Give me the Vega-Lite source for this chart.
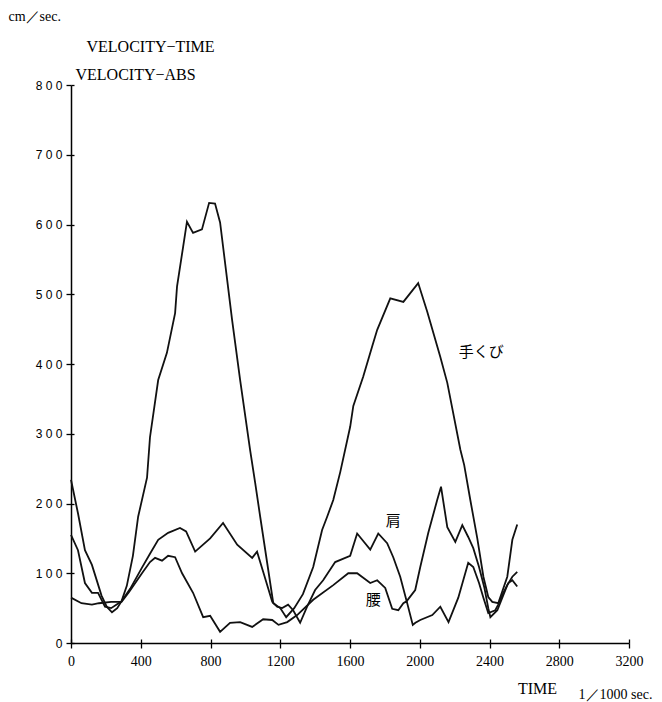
{
  "$schema": "https://vega.github.io/schema/vega-lite/v6.json",
  "width": 558,
  "height": 558,
  "autosize": {"type": "none"},
  "padding": {"left": 71, "top": 85, "right": 33, "bottom": 59},
  "background": "white",
  "config": {"view": {"stroke": null}, "font": "Liberation Serif"},
  "resolve": {"axis": {"x": "independent", "y": "independent"}},
  "layer": [
    {
      "data": {
        "values": [
          {"part": "手くび", "t": 0, "v": 234}, {"part": "手くび", "t": 40, "v": 186}, {"part": "手くび", "t": 80, "v": 133},
          {"part": "手くび", "t": 120, "v": 112}, {"part": "手くび", "t": 150, "v": 88}, {"part": "手くび", "t": 175, "v": 68},
          {"part": "手くび", "t": 205, "v": 52}, {"part": "手くび", "t": 235, "v": 44}, {"part": "手くび", "t": 265, "v": 50},
          {"part": "手くび", "t": 290, "v": 60}, {"part": "手くび", "t": 320, "v": 82}, {"part": "手くび", "t": 355, "v": 125},
          {"part": "手くび", "t": 385, "v": 181}, {"part": "手くび", "t": 436, "v": 237}, {"part": "手くび", "t": 453, "v": 295},
          {"part": "手くび", "t": 500, "v": 377}, {"part": "手くび", "t": 550, "v": 416}, {"part": "手くび", "t": 597, "v": 473},
          {"part": "手くび", "t": 608, "v": 511}, {"part": "手くび", "t": 643, "v": 568}, {"part": "手くび", "t": 665, "v": 604},
          {"part": "手くび", "t": 700, "v": 588}, {"part": "手くび", "t": 751, "v": 593}, {"part": "手くび", "t": 792, "v": 631},
          {"part": "手くび", "t": 826, "v": 630}, {"part": "手くび", "t": 855, "v": 603}, {"part": "手くび", "t": 924, "v": 463},
          {"part": "手くび", "t": 970, "v": 377}, {"part": "手くび", "t": 1027, "v": 277}, {"part": "手くび", "t": 1056, "v": 230},
          {"part": "手くび", "t": 1085, "v": 181}, {"part": "手くび", "t": 1160, "v": 57}, {"part": "手くび", "t": 1200, "v": 50},
          {"part": "手くび", "t": 1234, "v": 37}, {"part": "手くび", "t": 1280, "v": 50}, {"part": "手くび", "t": 1330, "v": 70},
          {"part": "手くび", "t": 1389, "v": 109}, {"part": "手くび", "t": 1440, "v": 162}, {"part": "手くび", "t": 1469, "v": 181},
          {"part": "手くび", "t": 1504, "v": 205}, {"part": "手くび", "t": 1544, "v": 245}, {"part": "手くび", "t": 1601, "v": 310},
          {"part": "手くび", "t": 1619, "v": 340}, {"part": "手くび", "t": 1676, "v": 382}, {"part": "手くび", "t": 1727, "v": 425},
          {"part": "手くび", "t": 1756, "v": 449}, {"part": "手くび", "t": 1831, "v": 494}, {"part": "手くび", "t": 1906, "v": 489},
          {"part": "手くび", "t": 1991, "v": 516}, {"part": "手くび", "t": 2043, "v": 475}, {"part": "手くび", "t": 2118, "v": 410},
          {"part": "手くび", "t": 2158, "v": 373}, {"part": "手くび", "t": 2233, "v": 277}, {"part": "手くび", "t": 2255, "v": 255},
          {"part": "手くび", "t": 2290, "v": 205}, {"part": "手くび", "t": 2330, "v": 150}, {"part": "手くび", "t": 2365, "v": 95},
          {"part": "手くび", "t": 2393, "v": 66}, {"part": "手くび", "t": 2416, "v": 59}, {"part": "手くび", "t": 2450, "v": 57},
          {"part": "手くび", "t": 2502, "v": 95}, {"part": "手くび", "t": 2531, "v": 148}, {"part": "手くび", "t": 2559, "v": 170},

          {"part": "肩", "t": 0, "v": 155}, {"part": "肩", "t": 40, "v": 133}, {"part": "肩", "t": 80, "v": 86},
          {"part": "肩", "t": 120, "v": 72}, {"part": "肩", "t": 155, "v": 72}, {"part": "肩", "t": 195, "v": 52},
          {"part": "肩", "t": 230, "v": 50}, {"part": "肩", "t": 260, "v": 55}, {"part": "肩", "t": 290, "v": 60},
          {"part": "肩", "t": 340, "v": 78}, {"part": "肩", "t": 407, "v": 108}, {"part": "肩", "t": 453, "v": 128},
          {"part": "肩", "t": 500, "v": 148}, {"part": "肩", "t": 557, "v": 158}, {"part": "肩", "t": 625, "v": 165},
          {"part": "肩", "t": 660, "v": 160}, {"part": "肩", "t": 712, "v": 131}, {"part": "肩", "t": 798, "v": 150},
          {"part": "肩", "t": 872, "v": 172}, {"part": "肩", "t": 953, "v": 141}, {"part": "肩", "t": 1039, "v": 122},
          {"part": "肩", "t": 1067, "v": 131}, {"part": "肩", "t": 1102, "v": 102}, {"part": "肩", "t": 1154, "v": 59},
          {"part": "肩", "t": 1182, "v": 52}, {"part": "肩", "t": 1211, "v": 50}, {"part": "肩", "t": 1245, "v": 55},
          {"part": "肩", "t": 1274, "v": 47}, {"part": "肩", "t": 1314, "v": 29}, {"part": "肩", "t": 1354, "v": 52},
          {"part": "肩", "t": 1400, "v": 76}, {"part": "肩", "t": 1446, "v": 90}, {"part": "肩", "t": 1515, "v": 116},
          {"part": "肩", "t": 1601, "v": 125}, {"part": "肩", "t": 1641, "v": 157}, {"part": "肩", "t": 1716, "v": 134},
          {"part": "肩", "t": 1762, "v": 157}, {"part": "肩", "t": 1813, "v": 143}, {"part": "肩", "t": 1848, "v": 123},
          {"part": "肩", "t": 1888, "v": 95}, {"part": "肩", "t": 1925, "v": 60}, {"part": "肩", "t": 1974, "v": 76},
          {"part": "肩", "t": 2003, "v": 109}, {"part": "肩", "t": 2049, "v": 158}, {"part": "肩", "t": 2100, "v": 205},
          {"part": "肩", "t": 2122, "v": 224}, {"part": "肩", "t": 2158, "v": 166}, {"part": "肩", "t": 2204, "v": 145},
          {"part": "肩", "t": 2244, "v": 169}, {"part": "肩", "t": 2278, "v": 152}, {"part": "肩", "t": 2307, "v": 136},
          {"part": "肩", "t": 2340, "v": 109}, {"part": "肩", "t": 2370, "v": 80}, {"part": "肩", "t": 2393, "v": 50},
          {"part": "肩", "t": 2405, "v": 37}, {"part": "肩", "t": 2445, "v": 47}, {"part": "肩", "t": 2502, "v": 83},
          {"part": "肩", "t": 2531, "v": 95}, {"part": "肩", "t": 2559, "v": 102},

          {"part": "腰", "t": 0, "v": 65}, {"part": "腰", "t": 60, "v": 57}, {"part": "腰", "t": 120, "v": 55},
          {"part": "腰", "t": 160, "v": 57}, {"part": "腰", "t": 230, "v": 59}, {"part": "腰", "t": 290, "v": 59},
          {"part": "腰", "t": 333, "v": 73}, {"part": "腰", "t": 407, "v": 100}, {"part": "腰", "t": 453, "v": 116},
          {"part": "腰", "t": 482, "v": 122}, {"part": "腰", "t": 522, "v": 118}, {"part": "腰", "t": 557, "v": 125},
          {"part": "腰", "t": 597, "v": 123}, {"part": "腰", "t": 637, "v": 100}, {"part": "腰", "t": 700, "v": 72},
          {"part": "腰", "t": 758, "v": 37}, {"part": "腰", "t": 798, "v": 39}, {"part": "腰", "t": 855, "v": 16},
          {"part": "腰", "t": 912, "v": 29}, {"part": "腰", "t": 970, "v": 30}, {"part": "腰", "t": 1039, "v": 23},
          {"part": "腰", "t": 1102, "v": 34}, {"part": "腰", "t": 1154, "v": 33}, {"part": "腰", "t": 1190, "v": 26},
          {"part": "腰", "t": 1240, "v": 30}, {"part": "腰", "t": 1297, "v": 40}, {"part": "腰", "t": 1389, "v": 62},
          {"part": "腰", "t": 1504, "v": 83}, {"part": "腰", "t": 1590, "v": 100}, {"part": "腰", "t": 1641, "v": 100},
          {"part": "腰", "t": 1716, "v": 86}, {"part": "腰", "t": 1756, "v": 90}, {"part": "腰", "t": 1802, "v": 79},
          {"part": "腰", "t": 1842, "v": 49}, {"part": "腰", "t": 1877, "v": 47}, {"part": "腰", "t": 1906, "v": 57},
          {"part": "腰", "t": 1925, "v": 60}, {"part": "腰", "t": 1960, "v": 26}, {"part": "腰", "t": 1975, "v": 29},
          {"part": "腰", "t": 2003, "v": 33}, {"part": "腰", "t": 2072, "v": 40}, {"part": "腰", "t": 2118, "v": 52},
          {"part": "腰", "t": 2165, "v": 30}, {"part": "腰", "t": 2221, "v": 65}, {"part": "腰", "t": 2278, "v": 115},
          {"part": "腰", "t": 2307, "v": 109}, {"part": "腰", "t": 2340, "v": 86}, {"part": "腰", "t": 2365, "v": 65},
          {"part": "腰", "t": 2393, "v": 43}, {"part": "腰", "t": 2433, "v": 47}, {"part": "腰", "t": 2450, "v": 55},
          {"part": "腰", "t": 2479, "v": 72}, {"part": "腰", "t": 2508, "v": 86}, {"part": "腰", "t": 2531, "v": 90},
          {"part": "腰", "t": 2559, "v": 81}
        ]
      },
      "mark": {"type": "line", "color": "#111", "strokeWidth": 1.8, "strokeJoin": "miter"},
      "encoding": {
        "x": {
          "field": "t", "type": "quantitative",
          "scale": {"domain": [0, 3200], "nice": false, "zero": false},
          "axis": {
            "values": [0, 400, 800, 1200, 1600, 2000, 2400, 2800, 3200],
            "format": "d",
            "grid": false,
            "domainColor": "#000", "domainWidth": 1.5,
            "tickColor": "#000", "tickWidth": 1.3, "tickSize": 5,
            "labelFont": "Liberation Serif", "labelFontSize": 14, "labelColor": "#000",
            "labelPadding": 6, "labelFlush": false, "labelOverlap": false,
            "title": "TIME", "titleFont": "Liberation Serif", "titleFontSize": 16,
            "titleFontWeight": "normal", "titleColor": "#000",
            "titleX": 466, "titleY": 50, "titleAlign": "center", "titleBaseline": "alphabetic"
          }
        },
        "y": {
          "field": "v", "type": "quantitative",
          "scale": {"domain": [0, 800], "nice": false},
          "axis": {
            "values": [0, 100, 200, 300, 400, 500, 600, 700, 800],
            "format": "d",
            "grid": false,
            "domainColor": "#000", "domainWidth": 1.5,
            "tickColor": "#000", "tickWidth": 1.3, "tickSize": 5,
            "labelFont": "Liberation Sans", "labelFontSize": 12, "labelColor": "#000",
            "labelPadding": 4, "labelFlush": false, "labelOverlap": false,
            "labelExpr": "replace(datum.label, regexp('([0-9])(?=[0-9])', 'g'), '$1 ')",
            "title": "cm／sec.", "titleFont": "Liberation Serif", "titleFontSize": 14,
            "titleFontWeight": "normal", "titleColor": "#000", "titleAngle": 0,
            "titleX": -63, "titleY": -65, "titleAlign": "left", "titleBaseline": "alphabetic"
          }
        },
        "detail": {"field": "part", "type": "nominal"}
      }
    },
    {
      "data": {"values": [{}]},
      "mark": {"type": "text", "font": "Noto Sans CJK JP", "fontSize": 15, "color": "#000", "align": "center", "baseline": "middle"},
      "encoding": {
        "x": {
          "datum": 2353, "type": "quantitative",
          "axis": {
            "orient": "bottom",
            "offset": -4,
            "values": [0, 400, 800, 1200, 1600, 2000, 2400, 2800, 3200],
            "grid": false, "domain": false, "labels": false,
            "tickColor": "#000", "tickWidth": 1.3, "tickSize": 4,
            "title": "1／1000 sec.", "titleFont": "Liberation Serif", "titleFontSize": 14,
            "titleFontWeight": "normal", "titleColor": "#000",
            "titleX": 507, "titleY": 59, "titleAlign": "left", "titleBaseline": "alphabetic"
          }
        },
        "y": {
          "datum": 417, "type": "quantitative",
          "axis": {
            "orient": "left",
            "offset": -3,
            "values": [0, 100, 200, 300, 400, 500, 600, 700, 800],
            "grid": false, "domain": false, "labels": false,
            "tickColor": "#000", "tickWidth": 1.3, "tickSize": 3,
            "title": "VELOCITY−ABS", "titleFont": "Liberation Serif", "titleFontSize": 16,
            "titleFontWeight": "normal", "titleColor": "#000", "titleAngle": 0,
            "titleX": 1, "titleY": -6, "titleAlign": "left", "titleBaseline": "alphabetic"
          }
        },
        "text": {"value": "手くび"}
      }
    },
    {
      "data": {"values": [{}]},
      "mark": {"type": "text", "font": "Noto Sans CJK JP", "fontSize": 15, "color": "#000", "align": "center", "baseline": "middle"},
      "encoding": {
        "x": {"datum": 1848, "type": "quantitative", "axis": null},
        "y": {
          "datum": 175, "type": "quantitative",
          "axis": {
            "orient": "left",
            "values": [800],
            "grid": false, "domain": false, "labels": false, "ticks": false,
            "title": "VELOCITY−TIME", "titleFont": "Liberation Serif", "titleFontSize": 16,
            "titleFontWeight": "normal", "titleColor": "#000", "titleAngle": 0,
            "titleX": 15, "titleY": -34, "titleAlign": "left", "titleBaseline": "alphabetic"
          }
        },
        "text": {"value": "肩"}
      }
    },
    {
      "data": {"values": [{}]},
      "mark": {"type": "text", "font": "Noto Sans CJK JP", "fontSize": 15, "color": "#000", "align": "center", "baseline": "middle"},
      "encoding": {
        "x": {"datum": 1733, "type": "quantitative", "axis": null},
        "y": {"datum": 62, "type": "quantitative", "axis": null},
        "text": {"value": "腰"}
      }
    }
  ]
}
